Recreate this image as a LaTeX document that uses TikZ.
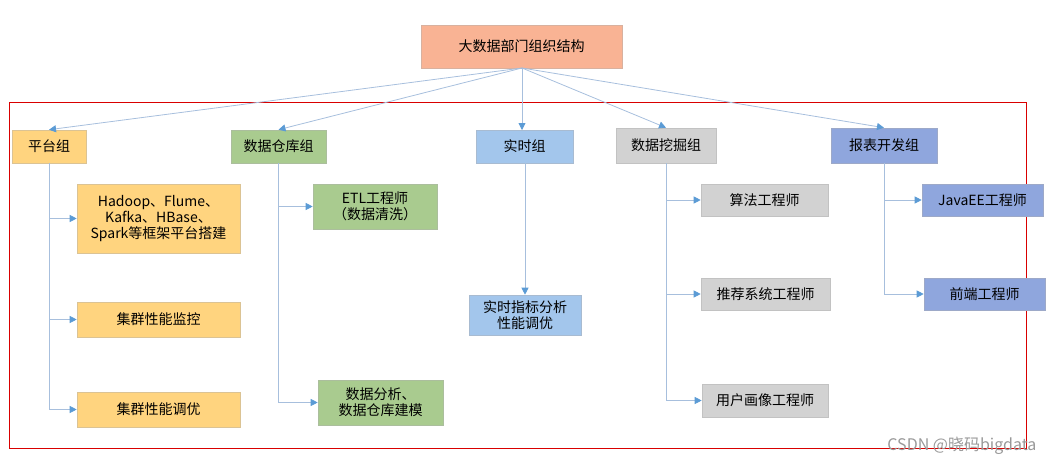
\documentclass[tikz,border=0pt]{standalone}
\usepackage{fontspec}
\setmainfont{Noto Sans CJK SC}
\usetikzlibrary{arrows.meta}
\definecolor{lc}{HTML}{A7BFDD}
\definecolor{tipc}{HTML}{5B9BD5}
\definecolor{cor}{HTML}{F9B394}
\definecolor{cye}{HTML}{FFD47F}
\definecolor{cgr}{HTML}{A9CB8F}
\definecolor{cbl}{HTML}{A3C6EC}
\definecolor{cgy}{HTML}{D2D2D2}
\definecolor{cpu}{HTML}{8FA6DD}
\begin{document}
\begin{tikzpicture}[x=1pt,y=-1pt,
  bx/.style={draw=#1!80!black!70,fill=#1,line width=0.6pt,font=\fontsize{14}{16}\selectfont,align=center,inner sep=0pt},
  con/.style={draw=lc,line width=0.8pt,-{Triangle[length=7pt,width=7pt,fill=tipc,color=tipc]}}]
\useasboundingbox (0,0) rectangle (1053,466);
\draw[red!85!black,line width=1pt] (9,102) rectangle (1026,448);
\newcommand\bxn[7]{\node[bx=#6,minimum width={#4-#2},minimum height={#5-#3}] (#1) at ({(#2+#4)/2},{(#3+#5)/2}) {#7};}
\bxn{top}{421}{25}{622}{68}{cor}{大数据部门组织结构}
\bxn{pt}{12}{130}{86}{163}{cye}{平台组}
\bxn{ck}{231}{130}{326}{163}{cgr}{数据仓库组}
\bxn{ss}{476}{130}{573}{163}{cbl}{实时组}
\bxn{wj}{616}{128}{716}{163}{cgy}{数据挖掘组}
\bxn{bb}{831}{128}{937}{163}{cpu}{报表开发组}
\bxn{p1}{77}{184}{240}{253}{cye}{Hadoop、Flume、\\Kafka、HBase、\\Spark等框架平台搭建}
\bxn{p2}{77}{302}{240}{337}{cye}{集群性能监控}
\bxn{p3}{77}{392}{240}{427}{cye}{集群性能调优}
\bxn{c1}{313}{184}{437}{229}{cgr}{ETL工程师\\（数据清洗）}
\bxn{c2}{318}{380}{443}{425}{cgr}{数据分析、\\数据仓库建模}
\bxn{s1}{469}{295}{581}{335}{cbl}{实时指标分析\\性能调优}
\bxn{w1}{701}{184}{828}{216}{cgy}{算法工程师}
\bxn{w2}{701}{278}{830}{310}{cgy}{推荐系统工程师}
\bxn{w3}{702}{384}{828}{417}{cgy}{用户画像工程师}
\bxn{b1}{922}{184}{1043}{216}{cpu}{JavaEE工程师}
\bxn{b2}{924}{278}{1045}{310}{cpu}{前端工程师}
\coordinate (o) at (522,68);
\draw[con] (o) -- (pt.north);
\draw[con] (o) -- (ck.north);
\draw[con] (o) -- (522,130);
\draw[con] (o) -- (wj.north);
\draw[con] (o) -- (bb.north);
\draw[con] (pt.south) |- (p1.west);
\draw[con] (pt.south) |- (p2.west);
\draw[con] (pt.south) |- (p3.west);
\draw[con] (ck.south) |- (c1.west);
\draw[con] (ck.south) |- (c2.west);
\draw[con] (s1.north |- ss.south) -- (s1.north);
\draw[con] (wj.south) |- (w1.west);
\draw[con] (wj.south) |- (w2.west);
\draw[con] (wj.south) |- (w3.west);
\draw[con] (bb.south) |- (b1.west);
\draw[con] (bb.south) |- (b2.west);
\node[text=black!40,font=\fontsize{16}{18}\selectfont,anchor=east] (wm) at (1040,446) {CSDN @晓码bigdata};
\end{tikzpicture}
\end{document}
